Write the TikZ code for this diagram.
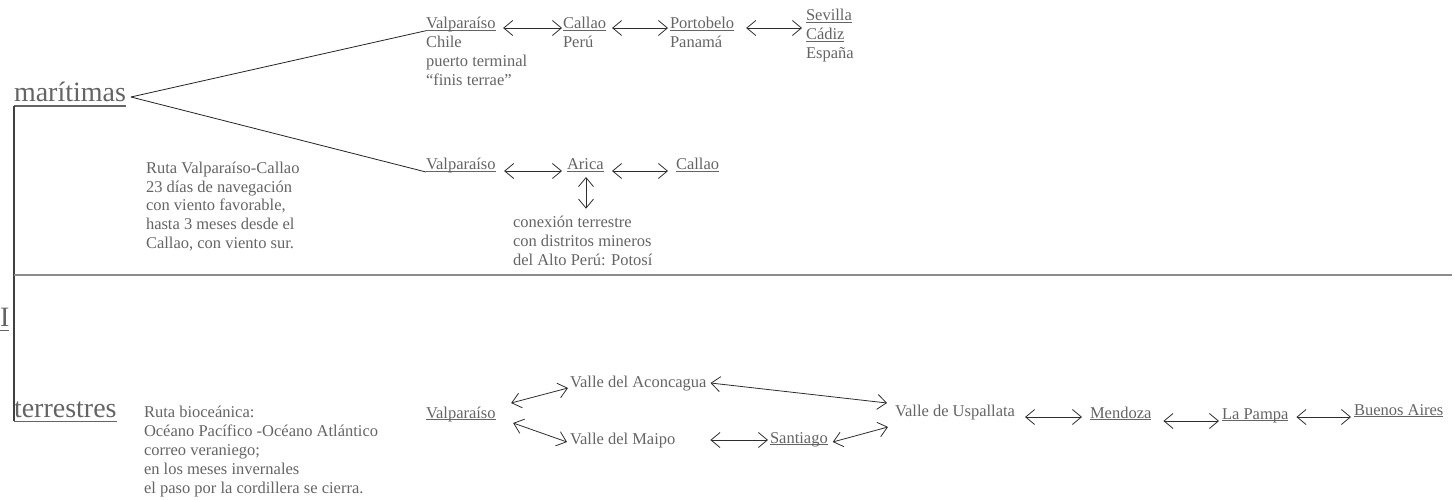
\documentclass[tikz,border=0pt]{standalone}
\usepackage{fontspec}
\setmainfont{Liberation Serif}
\usetikzlibrary{arrows.meta}
\definecolor{txtc}{RGB}{100,100,100}
\definecolor{arrc}{RGB}{45,45,45}
\definecolor{linec}{RGB}{35,35,35}
\definecolor{sepc}{RGB}{140,140,140}
\newsavebox\ulbx
\newcommand\myul[1]{\sbox\ulbx{#1}\rlap{\rule[-2.1pt]{\wd\ulbx}{0.8pt}}\usebox\ulbx}
\newcommand\bigul[1]{\sbox\ulbx{#1}\rlap{\rule[-4.6pt]{\wd\ulbx}{1.1pt}}\usebox\ulbx}
\newcommand\lines[1]{\begin{tabular}[t]{@{}l@{}}#1\end{tabular}}
\begin{document}
\begin{tikzpicture}[x=1pt,y=-1pt,
  txt/.style={inner sep=0pt, outer sep=0pt, anchor=base west, text=txtc, font=\fontsize{16.5}{19}\selectfont},
  bigtxt/.style={txt, font=\fontsize{28}{32}\selectfont},
  arr/.style={draw=arrc, line width=0.8pt, {Straight Barb[length=9pt,width=15pt]}-{Straight Barb[length=9pt,width=15pt]}},
  fan/.style={draw=linec, line width=0.8pt},
  frame/.style={draw=black!75, line width=1.1pt},
  sep/.style={draw=sepc, line width=2pt}]
\useasboundingbox (0,0) rectangle (1454,500);

% left labels
\node[bigtxt] (mar) at (14,102) {\bigul{marítimas}};
\node[bigtxt] (ii) at (0,326) {\bigul{I}};
\node[bigtxt] (ter) at (14,417) {\bigul{terrestres}};

% frame lines
\draw[frame] ([yshift=-4pt]mar.base west) -- ([yshift=-4pt]ter.base west);
\coordinate (sepL) at (14,275);
\coordinate (sepR) at (1452,275);
\draw[sep] (sepL) -- (sepR);

% top row
\node[txt] (vp1) at (426,29) {\myul{Valparaíso}};
\node[txt] (vp1s) at (426,48) {\lines{Chile\\puerto terminal\\“finis terrae”}};
\node[txt] (cal1) at (563,29) {\myul{Callao}};
\node[txt] (cal1s) at (563,48) {Perú};
\node[txt] (pto) at (670,29) {\myul{Portobelo}};
\node[txt] (ptos) at (670,48) {Panamá};
\node[txt] (sev) at (806,21) {\lines{\myul{Sevilla}\\\myul{Cádiz}\\España}};

\draw[arr] ([xshift=7.5pt,yshift=1pt]vp1.base east) -- ([xshift=-1pt,yshift=1pt]cal1.base west);
\draw[arr] ([xshift=6pt,yshift=1pt]cal1.base east) -- ([xshift=-2pt,yshift=1pt]pto.base west);
\draw[arr] ([xshift=12pt,yshift=1pt]pto.base east) -- ([xshift=-4pt,yshift=-7pt]sev.base west);

% second row
\node[txt] (vp2) at (426,170) {\myul{Valparaíso}};
\node[txt] (ari) at (567,170) {\myul{Arica}};
\node[txt] (cal2) at (676,170) {\myul{Callao}};
\node[txt] (con) at (513,227) {\lines{conexión terrestre\\con distritos mineros\\del Alto Perú: Potosí}};
\node[txt] (ruta) at (146,173) {\lines{Ruta Valparaíso-Callao\\23 días de navegación\\con viento favorable,\\hasta 3 meses desde el\\Callao, con viento sur.}};

\draw[arr] ([xshift=8.5pt,yshift=-1pt]vp2.base east) -- ([xshift=-5pt,yshift=-1pt]ari.base west);
\draw[arr] ([xshift=8.4pt,yshift=-1pt]ari.base east) -- ([xshift=-8pt,yshift=-1pt]cal2.base west);
\draw[arr] ([xshift=0.7pt,yshift=-7pt]ari.base) -- ([xshift=0.7pt,yshift=5pt]ari.base |- con.north);

% fan
\draw[fan] ([xshift=5pt,yshift=5pt]mar.base east) -- ([yshift=-1.7pt]vp1.base west);
\draw[fan] ([xshift=5pt,yshift=5pt]mar.base east) -- ([yshift=-2pt]vp2.base west);

% bottom
\node[txt] (bio) at (144,417) {\lines{Ruta bioceánica:\\Océano Pacífico -Océano Atlántico\\correo veraniego;\\en los meses invernales\\el paso por la cordillera se cierra.}};
\node[txt] (vp3) at (426,418) {\myul{Valparaíso}};
\node[txt] (acon) at (570,387) {Valle del Aconcagua};
\node[txt] (maipo) at (570,444) {Valle del Maipo};
\node[txt] (sant) at (770,443) {\myul{Santiago}};
\node[txt] (usp) at (895,416) {Valle de Uspallata};
\node[txt] (men) at (1090,418) {\myul{Mendoza}};
\node[txt] (pam) at (1222,419) {\myul{La Pampa}};
\node[txt] (bai) at (1354,415) {\myul{Buenos Aires}};

\draw[arr] ([xshift=15.5pt,yshift=15pt]vp3.base east) -- ([xshift=-2pt,yshift=-1pt]acon.base west);
\draw[arr] ([xshift=17.5pt,yshift=-5pt]vp3.base east) -- ([xshift=-3pt,yshift=2pt]maipo.base west);
\draw[arr] ([xshift=4pt,yshift=4pt]acon.base east) -- ([xshift=-8pt,yshift=13pt]usp.base west);
\draw[arr] ([xshift=35pt,yshift=4pt]maipo.base east) -- ([xshift=-2pt,yshift=3pt]sant.base west);
\draw[arr] ([xshift=5pt,yshift=1pt]sant.base east) -- ([xshift=-7pt,yshift=-11pt]usp.base west);
\draw[arr] ([xshift=10pt,yshift=-1pt]usp.base east) -- ([xshift=-8pt,yshift=1pt]men.base west);
\draw[arr] ([xshift=12pt,yshift=-3pt]men.base east) -- ([xshift=-3pt,yshift=-2pt]pam.base west);
\draw[arr] ([xshift=8pt,yshift=2pt]pam.base east) -- ([xshift=-3pt,yshift=-2pt]bai.base west);
\end{tikzpicture}
\end{document}
